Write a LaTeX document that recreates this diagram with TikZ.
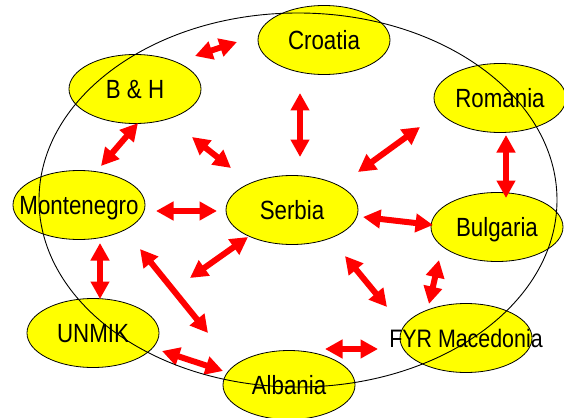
\documentclass[tikz,border=0pt]{standalone}
\usepackage{fontspec}
\setmainfont{Liberation Sans}
\usetikzlibrary{arrows.meta,shapes.geometric}
\definecolor{nodeyellow}{RGB}{255,255,0}
\definecolor{arrowred}{RGB}{255,0,0}
\newcommand{\tall}[1]{\scalebox{1}[1.18]{#1}}
\tikzset{
  country/.style={ellipse, draw=black, line width=0.8pt, fill=nodeyellow,
    minimum width=132pt, minimum height=69pt, inner sep=0pt},
  cname/.style={font=\fontsize{22.3pt}{26pt}\selectfont, text=black,
    inner sep=0pt, text height=18.6pt, text depth=0pt},
  link/.style={draw=arrowred, line width=6pt,
    {Triangle[length=17.5pt,width=18pt]}-{Triangle[length=17.5pt,width=18pt]}},
  region/.style={draw=black, line width=0.9pt}
}
\begin{document}
\begin{tikzpicture}[x=1pt,y=-1pt]
  \fill[white] (0,0) rectangle (564,417);
  \useasboundingbox (0,0) rectangle (564,417);

  % countries
  \node[country] (croatia)    at (324,40)  {};
  \node[country] (bh)         at (135,89)  {};
  \node[country] (romania)    at (500,98)  {};
  \node[country] (montenegro) at (79,205)  {};
  \node[country] (serbia)     at (292,210) {};
  \node[country] (bulgaria)   at (497,227) {};
  \node[country] (unmik)      at (93,333)  {};
  \node[country] (macedonia)  at (466,338) {};
  \node[country] (albania)    at (289,385) {};

  \node[cname] at (croatia.center)    {\tall{Croatia}};
  \node[cname] at (bh.center)         {\tall{B \& H}};
  \node[cname] at (romania.center)    {\tall{Romania}};
  \node[cname] at (montenegro.center) {\tall{Montenegro}};
  \node[cname] at (serbia.center)     {\tall{Serbia}};
  \node[cname] at (bulgaria.center)   {\tall{Bulgaria}};
  \node[cname] at (unmik.center)      {\tall{UNMIK}};
  \node[cname, font=\fontsize{21.4pt}{25pt}\selectfont] at (macedonia.center) {\tall{FYR Macedonia}};
  \node[cname] at (albania.center)    {\tall{Albania}};

  % end points of the relation arrows
  \coordinate (bhcro1) at (195,56);   \coordinate (bhcro2) at (237,42);
  \coordinate (crose1) at (300,93);   \coordinate (crose2) at (300,157);
  \coordinate (bhse1)  at (192,137);  \coordinate (bhse2)  at (231,168);
  \coordinate (bhmo1)  at (138,123);  \coordinate (bhmo2)  at (101,166);
  \coordinate (sero1)  at (358,172);  \coordinate (sero2)  at (420,127);
  \coordinate (robu1)  at (506,135);  \coordinate (robu2)  at (506,198);
  \coordinate (mose1)  at (156,211);  \coordinate (mose2)  at (217,211);
  \coordinate (sebu1)  at (363,217);  \coordinate (sebu2)  at (433,225);
  \coordinate (sesw1)  at (248,237);  \coordinate (sesw2)  at (190,278);
  \coordinate (moun1)  at (100,243);  \coordinate (moun2)  at (100,299);
  \coordinate (moal1)  at (140,249);  \coordinate (moal2)  at (208,333);
  \coordinate (sema1)  at (345,256);  \coordinate (sema2)  at (387,307);
  \coordinate (buma1)  at (439,260);  \coordinate (buma2)  at (429,304);
  \coordinate (unal1)  at (162,351);  \coordinate (unal2)  at (223,371);
  \coordinate (alma1)  at (325,349);  \coordinate (alma2)  at (378,349);

  \draw[link] (bhcro1) -- (bhcro2);
  \draw[link] (crose1) -- (crose2);
  \draw[link] (bhse1) -- (bhse2);
  \draw[link] (bhmo1) -- (bhmo2);
  \draw[link] (sero1) -- (sero2);
  \draw[link] (robu1) -- (robu2);
  \draw[link] (mose1) -- (mose2);
  \draw[link] (sebu1) -- (sebu2);
  \draw[link] (sesw1) -- (sesw2);
  \draw[link] (moun1) -- (moun2);
  \draw[link] (moal1) -- (moal2);
  \draw[link] (sema1) -- (sema2);
  \draw[link] (buma1) -- (buma2);
  \draw[link] (unal1) -- (unal2);
  \draw[link] (alma1) -- (alma2);

  % the surrounding region
  \draw[region] (298,200) ellipse [x radius=259, y radius=187];
\end{tikzpicture}
\end{document}
